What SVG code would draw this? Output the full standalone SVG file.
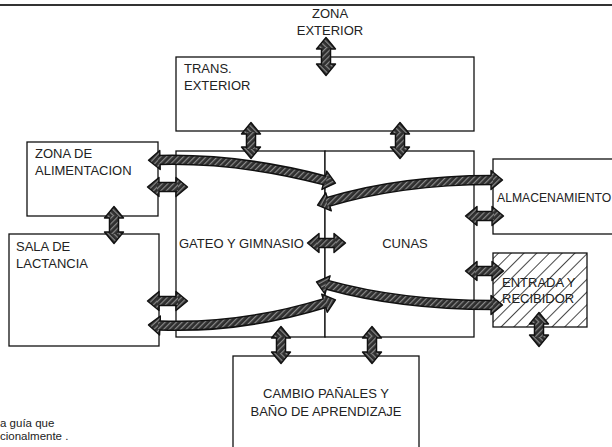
<svg xmlns="http://www.w3.org/2000/svg" width="612" height="447" viewBox="0 0 612 447">
<style>
.box{fill:#fff;stroke:#111;stroke-width:1.3}
.t{font-family:"Liberation Sans",Arial,sans-serif;font-size:13px;fill:#222}
.tc{text-anchor:middle}
.sh-o{fill:none;stroke:#111;stroke-width:10.5;marker-start:url(#ah);marker-end:url(#ah)}
.sh-i{fill:none;stroke:url(#hatch);stroke-width:7.5}
.note{font-family:"Liberation Sans",Arial,sans-serif;font-size:11.5px;fill:#222}
</style>
<defs>
<pattern id="hatch" width="4" height="4" patternUnits="userSpaceOnUse" patternTransform="rotate(45)">
<rect width="4" height="4" fill="#2e2e2e"/>
<rect width="1.2" height="4" fill="#8a8a8a"/>
</pattern>
<pattern id="boxhatch" width="9" height="9" patternUnits="userSpaceOnUse" patternTransform="rotate(45)">
<rect width="9" height="9" fill="#fff"/>
<rect width="0.9" height="9" fill="#333"/>
</pattern>
<marker id="ah" markerUnits="userSpaceOnUse" markerWidth="16" markerHeight="22" viewBox="-2 -11 16 22" refX="0" refY="0" orient="auto-start-reverse">
<path d="M-1,-9.5 L10.5,0 L-1,9.5 Z" fill="url(#hatch)" stroke="#111" stroke-width="1.4" stroke-linejoin="round"/>
</marker>
</defs>

<line x1="0" y1="5" x2="612" y2="5" stroke="#333" stroke-width="1.8"/>

<g id="zona-exterior">
<text class="t tc" x="330" y="18">ZONA</text>
<text class="t tc" x="330" y="35">EXTERIOR</text>
</g>

<g id="trans-exterior">
<rect class="box" x="176" y="57" width="298" height="74"/>
<text class="t" x="184" y="73">TRANS.</text>
<text class="t" x="184" y="90">EXTERIOR</text>
</g>

<g id="gateo-gimnasio">
<rect class="box" x="176" y="151" width="149" height="186"/>
<text class="t" x="179" y="248">GATEO Y GIMNASIO</text>
</g>

<g id="cunas">
<rect class="box" x="325" y="151" width="149" height="186"/>
<text class="t tc" x="405" y="248">CUNAS</text>
</g>

<g id="zona-alimentacion">
<rect class="box" x="27" y="142" width="131" height="74"/>
<text class="t" x="35" y="158">ZONA DE</text>
<text class="t" x="35" y="175">ALIMENTACION</text>
</g>

<g id="sala-lactancia">
<rect class="box" x="9" y="234" width="150" height="112"/>
<text class="t" x="16" y="251">SALA DE</text>
<text class="t" x="16" y="268">LACTANCIA</text>
</g>

<g id="almacenamiento">
<rect class="box" x="493" y="159" width="130" height="75"/>
<text class="t" x="497" y="202" style="font-size:12.2px">ALMACENAMIENTO</text>
</g>

<g id="entrada-recibidor">
<rect x="493" y="253" width="94" height="74" fill="url(#boxhatch)" stroke="#111" stroke-width="1.3"/>
<text class="t" x="502" y="287" fill="#444">ENTRADA Y</text>
<text class="t" x="502" y="303" fill="#444">RECIBIDOR</text>
</g>

<g id="cambio-panales">
<rect class="box" x="233" y="356" width="186" height="100"/>
<text class="t tc" x="326" y="398">CAMBIO PAÑALES Y</text>
<text class="t tc" x="326" y="416">BAÑO DE APRENDIZAJE</text>
</g>

<g id="connectors">
<path class="sh-o" d="M326,48 L326,65"/><path class="sh-i" d="M326,47 L326,66"/>
<path class="sh-o" d="M251,133 L251,148"/><path class="sh-i" d="M251,132 L251,149"/>
<path class="sh-o" d="M400,133 L400,148"/><path class="sh-i" d="M400,132 L400,149"/>
<path class="sh-o" d="M114,217 L114,233"/><path class="sh-i" d="M114,216 L114,234"/>
<path class="sh-o" d="M281,337 L281,353"/><path class="sh-i" d="M281,336 L281,354"/>
<path class="sh-o" d="M372,337 L372,353"/><path class="sh-i" d="M372,336 L372,354"/>
<path class="sh-o" d="M539,323 L539,336"/><path class="sh-i" d="M539,322 L539,337"/>
<path class="sh-o" d="M158,187 L177,187"/><path class="sh-i" d="M157,187 L178,187"/>
<path class="sh-o" d="M158,301 L177,301"/><path class="sh-i" d="M157,301 L178,301"/>
<path class="sh-o" d="M318,243 L335,243"/><path class="sh-i" d="M317,243 L336,243"/>
<path class="sh-o" d="M476,216 L493,216"/><path class="sh-i" d="M475,216 L494,216"/>
<path class="sh-o" d="M476,271 L493,271"/><path class="sh-i" d="M475,271 L494,271"/>
<path class="sh-o" d="M159,160 Q240,158 325.3,180.5"/><path class="sh-i" d="M158,160 Q240,158 326.3,180.8"/>
<path class="sh-o" d="M327.6,202.1 Q400,180 492,180"/><path class="sh-i" d="M326.6,202.4 Q400,180 493,180"/>
<path class="sh-o" d="M159,325.4 Q240,329 325.4,302.9"/><path class="sh-i" d="M158,325.4 Q240,329 326.4,302.6"/>
<path class="sh-o" d="M326.6,284.7 Q400,305 492,305"/><path class="sh-i" d="M325.6,284.4 Q400,305 493,305"/>
</g>

<g id="footnote">
<text class="note" x="0" y="427">a guía que</text>
<text class="note" x="0" y="440">cionalmente .</text>
</g>
</svg>
